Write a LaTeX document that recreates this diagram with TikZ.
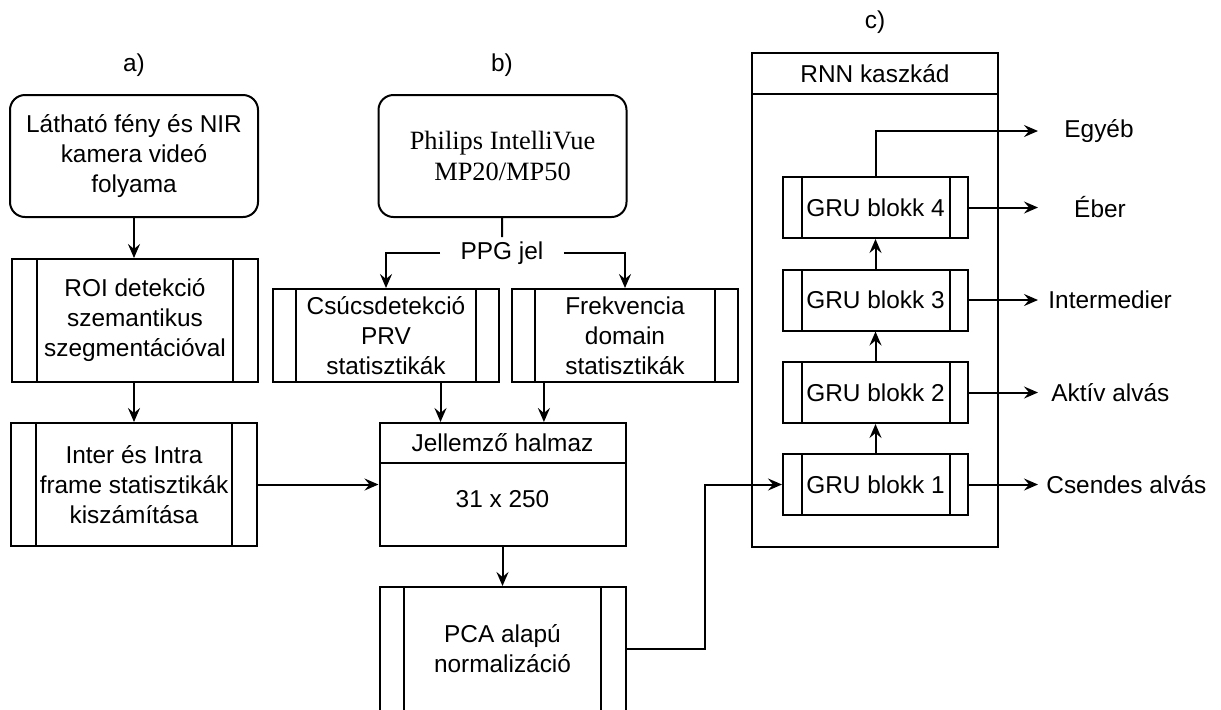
\documentclass[tikz,border=0pt]{standalone}
\usepackage{fontspec}
\setmainfont{Liberation Sans}
\newfontfamily\phfont{Liberation Serif}
\usetikzlibrary{positioning,arrows.meta,calc}
\tikzset{
  base/.style = {draw, line width=1pt, align=center, inner sep=2pt},
  term/.style = {base, rounded corners=7.5pt, minimum width=124pt,
                 minimum height=61pt},
  proc/.style = {base, path picture={
      \draw[line width=1pt]
        ($(path picture bounding box.north west)!0.1!(path picture bounding box.north east)$) --
        ($(path picture bounding box.south west)!0.1!(path picture bounding box.south east)$);
      \draw[line width=1pt]
        ($(path picture bounding box.north west)!0.9!(path picture bounding box.north east)$) --
        ($(path picture bounding box.south west)!0.9!(path picture bounding box.south east)$);}},
  big/.style  = {proc, minimum width=123pt, minimum height=61.5pt},
  mid/.style  = {proc, minimum width=113pt, minimum height=46.5pt, inner sep=0pt},
  gru/.style  = {proc, minimum width=92.5pt, minimum height=30.5pt},
  cont/.style = {draw, line width=1pt, minimum width=123pt},
  ar/.style   = {-{Stealth[length=7pt,width=6pt,inset=2.5pt]}, line width=1pt},
  ln/.style   = {line width=1pt},
  lbl/.style  = {inner sep=1pt},
}

\begin{document}
\begin{tikzpicture}[x=0.5pt, y=-0.5pt, font=\fontsize{12.2}{15}\selectfont]
\useasboundingbox (0,0) rectangle (1221,709);

% --- column a) ---
\node[lbl] (laba) at (134,65) {a)};
\node[term] (src) at (134,156) {Látható fény és NIR\\kamera videó\\folyama};
\node[big] (roi) at (135,320.5) {ROI detekció\\szemantikus\\szegmentációval};
\node[big] (stat) at (134,484.5) {Inter és Intra\\frame statisztikák\\kiszámítása};

% --- column b) ---
\node[lbl] (labb) at (502,65) {b)};
\node[term, font=\phfont\fontsize{13.2}{15.5}\selectfont] (phil) at (502.5,156)
     {Philips IntelliVue\\MP20/MP50};
\node[inner xsep=10pt, inner ysep=2pt] (ppg) at (502,253) {PPG jel};
\node[mid] (csucs) at (386,335.5) {Csúcsdetekció\\PRV\\statisztikák};
\node[mid] (frek) at (625,335.5) {Frekvencia\\domain\\statisztikák};

\node[cont, minimum height=61.5pt] (feat) at (502.5,484.5) {};
\node[cont, minimum height=20pt, anchor=north] (feathd) at (feat.north) {Jellemző halmaz};
\node (featval) at (502.5,499) {31 x 250};
\node[big, minimum height=62pt] (pca) at (502.5,649) {PCA alapú\\normalizáció};

% --- column c) ---
\node[lbl] (labc) at (875,22) {c)};
\node[cont, minimum height=247pt] (rnn) at (875,300) {};
\node[cont, minimum height=20.5pt, anchor=north] (rnnhd) at (rnn.north) {RNN kaszkád};
\node[gru] (gru4) at (875.5,207.5) {GRU blokk 4};
\node[gru] (gru3) at (875.5,300) {GRU blokk 3};
\node[gru] (gru2) at (875.5,392.5) {GRU blokk 2};
\node[gru] (gru1) at (875.5,484.5) {GRU blokk 1};

\coordinate (eegy) at (1038,131);
\node[lbl] (oegy) at (1099,131) {Egyéb};
\node[lbl] (oeber) at (1100,207.5) {Éber};
\node[lbl, anchor=west] (oint) at (1046,300) {Intermedier};
\node[lbl, anchor=west] (oakt) at (1049,392.5) {Aktív alvás};
\node[lbl, anchor=west] (ocs) at (1044,484.5) {Csendes alvás};

% --- connectors ---
\draw[ar] (src.south) -- (src.south |- roi.north);
\draw[ar] (roi.south -| src.south) -- (src.south |- stat.north);
\draw[ar] (stat.east) -- (stat.east -| feat.west);

\draw[ln] (phil) -- (ppg);
\draw[ar] (ppg.west) -| (csucs);
\draw[ar] (ppg.east) -| (frek);
\coordinate (fin1) at ($(feat.north west)!0.25!(feat.north east)$);
\coordinate (fin2) at ($(feat.north west)!0.667!(feat.north east)$);
\draw[ar] (csucs.south -| fin1) -- (fin1);
\draw[ar] (frek.south -| fin2) -- (fin2);
\draw[ar] (feat) -- (pca);
\draw[ar] (pca.east) -- ++(78,0) |- (gru1.west);

\draw[ar] (gru1) -- (gru2);
\draw[ar] (gru2) -- (gru3);
\draw[ar] (gru3) -- (gru4);
\draw[ar] (gru4.north) |- (eegy);
\draw[ar] (gru4.east) -- (gru4.east -| eegy);
\draw[ar] (gru3.east) -- (gru3.east -| eegy);
\draw[ar] (gru2.east) -- (gru2.east -| eegy);
\draw[ar] (gru1.east) -- (gru1.east -| eegy);
\end{tikzpicture}
\end{document}
